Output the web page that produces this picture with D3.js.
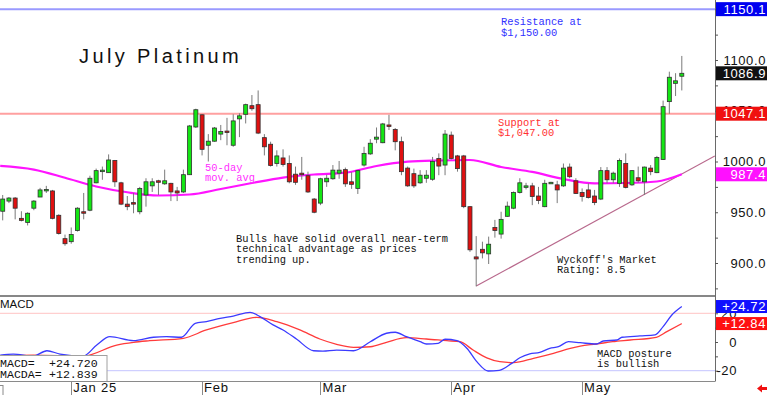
<!DOCTYPE html>
<html>
<head>
<meta charset="utf-8">
<script src="https://cdn.jsdelivr.net/npm/d3@7"></script>
<style>
  body { margin: 0; background: #fff; }
  svg { display: block; }
</style>
</head>
<body>
<div id="chart"></div>
<script>
// daily candles, mid-Dec 2024 .. mid-May 2025 (index = trading day)
const opens = [951,961,964,944,940,954,965,972,971,947, 924,921,932,950.5,952,979,991,989,1001,979,
  958,959.5,950.5,967,976,981,978,978.5,971,970, 987,1034,1046,1016,1020,1027,1030,1016,1042,1046.5,
  1055,1056,1023.5,1017,998,1003.5,998,987.5,988.5,986, 963,959,980,983,988.5,992,980,973.5,996.5,1007.5,
  1022,1018.5,1036,1031.5,1019.5,993.5,988,979,983.5,982.5, 1003,996.5,1026,1005.5,1005.5,955.5,906,913.5,909,935,
  928.5,946,954,969.5,975.5,976,966,955.5,979,977, 976,994.5,981,969.5,972,966,963,991,982,978.5,
  998,977,984,980,993.5,989,1002,1059,1077,1084];
const highs = [967,965,965,951,950,962,974,976,972,948, 928,935,955,969,986,993,995,1007,1001.5,980,
  966,969,975,983.5,983.5,982,992,979,975,992, 1036,1052,1046.5,1027,1034,1036,1043,1046.5,1047.5,1057,
  1065.5,1070,1027,1019.5,1011,1012,1006,995,1004.5,990, 964,984,987,996.5,1000.5,994,989.5,991.5,1014.5,1022,
  1033.5,1038,1046,1033,1024.5,995,993,991.5,991.5,1004.5, 1008,1031,1029.5,1006.5,1006.5,956,926.5,921,926,942.5,
  950.5,960.5,970.5,983.5,979,979,975,982,980,981, 998,998,983.5,973.5,978.5,972,994.5,994.5,990,1003,
  1008,991.5,995,995,996.5,1005.5,1060,1088.5,1087,1104];
const lows = [942,959,943,941,937,952,965,969,943,928, 917,919,931,943,951,978.5,982,989,975,957,
  952,949,948,955.5,970,967,977,961,961,969, 987,1033,1006,1000,1019.5,1021,1016,1014.5,1024,1037.5,
  1050,1027,1006,995,995,995,978.5,977,982,969, 949,957,975,982,983,975,973,968,995,1006.5,
  1018,1018,1031,1011,986.5,975,974,978,979,981, 986.5,986.5,1002,990,954,911,877,904.5,899,925,
  924,945.5,953,968.5,972.5,957,958,955,978.5,959, 975,983.5,968,960.5,963.5,957,962,978.5,978.5,975,
  973.5,976,979,967,986.5,988.5,1001.5,1047,1064.5,1070];
const closes = [963,964,954,942,949,961,972,972.5,944,929, 919,928,954,949.5,983.5,991,991.5,1001.5,980,958,
  955.5,958,973.5,980,980,979.5,981,970,969,987, 1035,1051,1012,1020,1033,1029.5,1029,1040,1045,1056,
  1052,1028,1014.5,996,1005.5,997,980,979.5,987,970, 950,983,983.5,991.5,991.5,978,977.5,991,1008,1018,
  1024,1037,1034.5,1019.5,990,976,976,986.5,986.5,1000, 995.5,1027,1003,993,955.5,913,904,910,918.5,932,
  943,956,969.5,979,976,965.5,961.5,978.5,979.5,972, 993.5,985,968.5,965.5,964.5,959.5,991,982,988.5,1001,
  974.5,991,981,994.5,990,1004,1054,1083,1079.5,1086.9];

// 50-day moving average, read at these day indices
const maAt = [-0.4,5,10,15,20,25,30,35,40,45,50,55,60,65,70,75,80,85,90,95,100,105,109];
const ma = [995.6,992,984,975.4,969.7,966.5,967.5,972.9,978.8,984.2,987.2,989,995.6,999.8,1001,1001.5,994.6,989.7,982.8,978.5,978.8,980.3,987.4];

// MACD (blue) and its average (red)
const macdAt = [-0.4,1.7,4.9,7.1,9.2,12.9,15.1,17.2,21,24.2,26.3,28.7,30.9,32.7,34.9,37,39.7,41.3,43.4,45,
  47.2,49.9,51.4,53.6,56.3,59,61.6,63,64.8,67,68,69.9,71,72.9,74.5,76.1,77.9,79.7,81.7,83,
  84.6,86.2,87.8,89.2,90.8,92.7,95.3,96.4,98.6,99.4,102.3,104.7,106,107.4,109];
const macd = [-9.1,-8.4,-9.8,-6.1,-8.4,-9.8,-2.1,3.7,0.9,3.3,3.7,3.3,13,14.2,16.5,18.1,20.7,17.7,11.9,8.4,
  1.9,-6.1,-6.3,-5.6,-6.1,0.2,6.1,6.8,3.7,0.2,-1.4,-0.9,1.9,0.9,-4.4,-13.7,-20.2,-19.7,-14.9,-11,
  -8.2,-7.2,-4.4,-3.3,0.2,-0.5,-1.4,0.7,1.4,3.3,4.2,4.9,10.7,18.8,24.72];
const signalAt = [-0.4,4.9,12.9,18.3,21,23.6,29,32.7,37,40.8,44,47.7,50.9,53.6,56.3,59,61.6,64.8,68,71.3,
  73.4,75.5,77.7,79.8,82,85.2,88.4,91.1,92.7,95.3,97.9,100.7,104.9,106.6,109];
const signal = [-9.8,-9.1,-9.8,-2.1,-0.2,0.9,2.6,8.4,13.5,17.2,14.2,8.4,2.1,-1.6,-3.7,-3.3,-0.2,3,2.1,0.9,
  0.2,-5.6,-11,-13.7,-14.4,-11.4,-7.9,-4.4,-2.8,-1.4,0.2,1.4,3.3,7.2,12.84];

// month ticks
const monthAt = [11, 32, 51, 72, 93];
const monthLabels = ["Jan 25", "Feb", "Mar", "Apr", "May"];

// drawn levels
const resistance = 1150.1;
const support = 1047.1;
const trendAt = [76, 114.3];
const trendPrice = [877.3, 1005.4];
const lastPrice = 1086.9;
const lastMa = 987.4;
const lastMacd = 24.72, lastSignal = 12.84;
const legendRows = [["MACD=", "+24.720"], ["MACDA=", "+12.839"]];

const width = 768, height = 395;
const plotRight = 715;
const priceBottom = 296, macdBottom = 381.5;
const sans = "'Liberation Sans', Arial, sans-serif";
const mono = "'Liberation Mono', 'DejaVu Sans Mono', monospace";

const x = d3.scaleLinear().domain([0, 109]).range([2.7, 681.8]);
const y = d3.scaleLinear().domain([900, 1100]).range([263, 60]);
const ym = d3.scaleLinear().domain([-20, 20]).range([370.7, 313.3]);

const svg = d3.select("#chart").append("svg")
  .attr("width", width)
  .attr("height", height)
  .attr("viewBox", [0, 0, width, height]);

svg.append("rect").attr("width", width).attr("height", height).attr("fill", "#fff");

const defs = svg.append("defs");
defs.append("clipPath").attr("id", "pclip").append("rect")
  .attr("x", 0).attr("y", 0).attr("width", plotRight).attr("height", priceBottom);
defs.append("clipPath").attr("id", "mclip").append("rect")
  .attr("x", 0).attr("y", priceBottom).attr("width", plotRight).attr("height", macdBottom - priceBottom);

// ---- price panel
const price = svg.append("g").attr("clip-path", "url(#pclip)");

price.append("line")
  .attr("x1", 0).attr("x2", plotRight)
  .attr("y1", y(resistance)).attr("y2", y(resistance))
  .attr("stroke", "#9a9aff").attr("stroke-width", 2);
price.append("line")
  .attr("x1", 0).attr("x2", plotRight)
  .attr("y1", y(support)).attr("y2", y(support))
  .attr("stroke", "#ffa0a0").attr("stroke-width", 2);

price.append("line")
  .attr("x1", x(trendAt[0])).attr("x2", x(trendAt[1]))
  .attr("y1", y(trendPrice[0])).attr("y2", y(trendPrice[1]))
  .attr("stroke", "#b8688c").attr("stroke-width", 1.2);

price.append("path")
  .datum(d3.zip(maAt, ma))
  .attr("fill", "none")
  .attr("stroke", "#ff14ff")
  .attr("stroke-width", 2.2)
  .attr("d", d3.line().x(d => x(d[0])).y(d => y(d[1])).curve(d3.curveMonotoneX));

const I = d3.range(opens.length);
const candle = price.append("g").selectAll("g").data(I).join("g");
candle.append("line")
  .attr("x1", i => x(i)).attr("x2", i => x(i))
  .attr("y1", i => y(highs[i])).attr("y2", i => y(lows[i]))
  .attr("stroke", "#7a7a7a");
candle.append("rect")
  .attr("x", i => x(i) - 2)
  .attr("width", 4)
  .attr("y", i => y(Math.max(opens[i], closes[i])))
  .attr("height", i => Math.max(1.5, Math.abs(y(opens[i]) - y(closes[i]))))
  .attr("fill", i => closes[i] >= opens[i] ? "#14e614" : "#e01010")
  .attr("stroke", "#303030")
  .attr("stroke-width", 0.8);

// annotations
svg.append("text")
  .attr("x", 79).attr("y", 63)
  .attr("font-family", sans).attr("font-size", 20).attr("letter-spacing", 3.4)
  .attr("fill", "#111")
  .text("July Platinum");

function note(xp, yp, lines, color) {
  const t = svg.append("text")
    .attr("font-family", mono).attr("font-size", 10.4)
    .attr("fill", color);
  lines.forEach((s, k) => t.append("tspan").attr("x", xp).attr("y", yp + k * 10.5).text(s));
}
note(501, 25, ["Resistance at", "$1,150.00"], "#3030ff");
note(498, 125.5, ["Support at", "$1,047.00"], "#ff3030");
note(205, 170.5, ["50-day", "mov. avg"], "#ff30ff");
note(236, 241.5, ["Bulls have solid overall near-term", "technical advantage as prices", "trending up."], "#111");
note(557, 262.5, ["Wyckoff's Market", "Rating: 8.5"], "#111");
note(597, 356.5, ["MACD posture", "is bullish"], "#111");

// ---- MACD panel
const mg = svg.append("g").attr("clip-path", "url(#mclip)");
mg.append("line").attr("x1", 0).attr("x2", plotRight).attr("y1", ym(20)).attr("y2", ym(20))
  .attr("stroke", "#ffc4c4");
mg.append("line").attr("x1", 0).attr("x2", plotRight).attr("y1", ym(-20)).attr("y2", ym(-20))
  .attr("stroke", "#c4c4ff");

const mline = d3.line().x(d => x(d[0])).y(d => ym(d[1])).curve(d3.curveMonotoneX);
mg.append("path").datum(d3.zip(signalAt, signal))
  .attr("fill", "none").attr("stroke", "#ff3b3b").attr("stroke-width", 1.3).attr("d", mline);
mg.append("path").datum(d3.zip(macdAt, macd))
  .attr("fill", "none").attr("stroke", "#3b3bff").attr("stroke-width", 1.3).attr("d", mline);

svg.append("text").attr("x", 0).attr("y", 308)
  .attr("font-family", sans).attr("font-size", 11.5).attr("fill", "#111")
  .text("MACD");

const legend = svg.append("g");
legend.append("rect")
  .attr("x", -1).attr("y", 355.5).attr("width", 108).attr("height", 26)
  .attr("fill", "#fff").attr("stroke", "#a0a0a0");
legendRows.forEach(([a, b], k) => {
  const yy = 366.5 + k * 11;
  legend.append("text").attr("x", 0).attr("y", yy)
    .attr("font-family", mono).attr("font-size", 11.6).attr("fill", "#111").text(a);
  legend.append("text").attr("x", 49).attr("y", yy)
    .attr("font-family", mono).attr("font-size", 11.6).attr("fill", "#111").text(b);
});

// panel frames
svg.append("line").attr("x1", 0).attr("x2", plotRight).attr("y1", priceBottom).attr("y2", priceBottom)
  .attr("stroke", "#111").attr("stroke-width", 1.2);
svg.append("line").attr("x1", 0).attr("x2", plotRight).attr("y1", macdBottom).attr("y2", macdBottom)
  .attr("stroke", "#8a8a8a");
svg.append("line").attr("x1", plotRight + 0.5).attr("x2", plotRight + 0.5).attr("y1", 0).attr("y2", macdBottom)
  .attr("stroke", "#6a6a6a");

// ---- right axes
const priceAxis = d3.axisRight(y)
  .tickValues(d3.range(875, 1175, 25))
  .tickSize(3)
  .tickFormat(d => d % 50 === 0 ? d3.format(".1f")(d) : "");
svg.append("g")
  .attr("transform", `translate(${plotRight},0)`)
  .call(priceAxis)
  .call(g => g.select(".domain").remove())
  .call(g => g.selectAll(".tick line").attr("stroke", "#555"))
  .call(g => g.selectAll(".tick text")
    .attr("x", 51).attr("text-anchor", "end")
    .attr("font-family", sans).attr("font-size", 13).attr("letter-spacing", 0.6)
    .attr("fill", "#111"));

const macdAxis = d3.axisRight(ym)
  .tickValues([-20, -10, 0, 10, 20])
  .tickSize(3)
  .tickFormat(d => d % 20 === 0 ? d : "");
svg.append("g")
  .attr("transform", `translate(${plotRight},0)`)
  .call(macdAxis)
  .call(g => g.select(".domain").remove())
  .call(g => g.selectAll(".tick line").attr("stroke", "#555"))
  .call(g => g.selectAll(".tick text")
    .attr("x", 22).attr("text-anchor", "end")
    .attr("font-family", sans).attr("font-size", 13).attr("letter-spacing", 0.6)
    .attr("fill", "#111"));

// value boxes on the right axis
function valueBox(yy, h, text, color) {
  svg.append("rect")
    .attr("x", plotRight + 1).attr("y", yy - h / 2).attr("width", width - plotRight - 2).attr("height", h)
    .attr("fill", color);
  svg.append("text")
    .attr("x", 766).attr("y", yy).attr("dy", "0.36em").attr("text-anchor", "end")
    .attr("font-family", sans).attr("font-size", 13).attr("letter-spacing", 0.6)
    .attr("fill", "#fff").text(text);
}
valueBox(y(resistance), 14, d3.format(".1f")(resistance), "#0000f0");
valueBox(y(lastPrice), 14, d3.format(".1f")(lastPrice), "#111");
valueBox(y(support), 14, d3.format(".1f")(support), "#f01010");
valueBox(y(lastMa), 14, d3.format(".1f")(lastMa), "#ff10ff");
valueBox(ym(lastMacd), 13, d3.format("+.2f")(lastMacd), "#1010ff");
valueBox(ym(lastSignal), 13, d3.format("+.2f")(lastSignal), "#ff1010");

// ---- date axis
const dates = svg.append("g");
dates.selectAll("line").data(monthAt).join("line")
  .attr("x1", i => Math.round(x(i)) + 0.5).attr("x2", i => Math.round(x(i)) + 0.5)
  .attr("y1", macdBottom).attr("y2", height)
  .attr("stroke", "#8a8a8a");
dates.selectAll("text").data(monthAt).join("text")
  .attr("x", i => x(i) + 2).attr("y", 392)
  .attr("font-family", sans).attr("font-size", 13).attr("letter-spacing", 0.8)
  .attr("fill", "#111")
  .text((d, k) => monthLabels[k]);
dates.append("rect").attr("x", -1).attr("y", 385.5).attr("width", 4).attr("height", 12)
  .attr("fill", "none").attr("stroke", "#8a8a8a");

// little red arrow bottom right
svg.append("path")
  .attr("d", "M757,388.5 L762,384.5 L762,387 L767,387 L767,390 L762,390 L762,392.5 Z")
  .attr("fill", "#f01010");
</script>
</body>
</html>
